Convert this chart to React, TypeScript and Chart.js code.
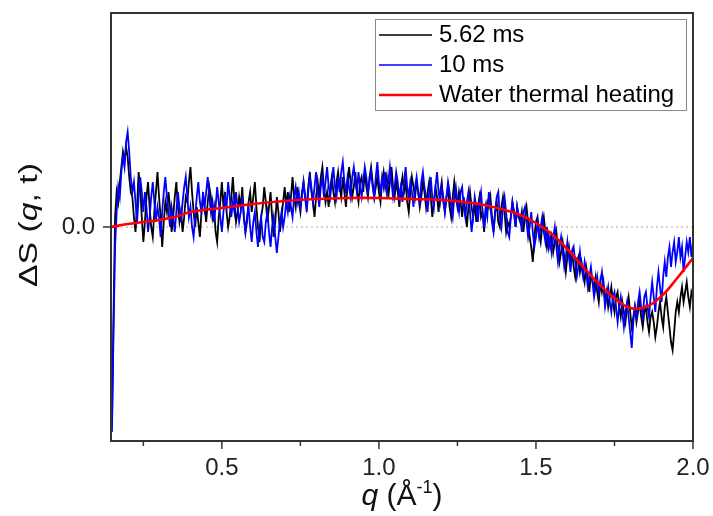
import React, { useEffect, useRef } from 'react';
import { Chart, registerables } from 'chart.js';
Chart.register(...registerables);

const Q_START = 0.15;
const Q_STEP = 0.005;

// ΔS for 5.62 ms, q = 0.150 … 2.000 every 0.005
const series562 = [
  -2.0, -0.9, 0.1, 0.35, 0.25, 0.45, 0.6, 0.75, 0.65, 0.8, 0.7, 0.5, 0.35, 0.3, 0.1, -0.05, 0.2, 0.55, 0.4, 0.1,
  -0.15, 0.05, 0.3, 0.45, 0.2, 0.0, -0.1, 0.15, 0.35, 0.55, 0.3, 0.1, -0.2, 0.05, 0.25, 0.15, 0.35, 0.2, -0.05, 0.1,
  0.3, 0.45, 0.2, 0.05, 0.15, -0.05, 0.1, 0.3, 0.25, 0.45, 0.6, 0.35, 0.15, 0.0, 0.2, 0.05, -0.1, 0.15, 0.3, 0.2,
  0.05, 0.25, 0.4, 0.3, 0.1, 0.2, -0.05, -0.15, 0.1, 0.25, 0.45, 0.2, 0.35, 0.15, 0.0, 0.1, 0.3, 0.5, 0.25, 0.05,
  0.15, 0.3, 0.2, 0.4, 0.1, -0.05, 0.05, 0.25, 0.35, 0.15, 0.3, 0.45, 0.2, 0.0, -0.15, 0.1, 0.2, 0.4, 0.25, 0.05,
  0.2, 0.35, 0.1, -0.1, 0.05, 0.3, 0.15, -0.05, 0.1, 0.25, 0.4, 0.2, 0.35, 0.15, 0.3, 0.5, 0.3, 0.2, 0.4, 0.25,
  0.15, 0.35, 0.45, 0.3, 0.2, 0.4, 0.55, 0.35, 0.25, 0.1, 0.3, 0.45, 0.3, 0.5, 0.6, 0.4, 0.25, 0.35, 0.2, 0.4,
  0.5, 0.35, 0.25, 0.45, 0.55, 0.4, 0.3, 0.5, 0.35, 0.2, 0.4, 0.6, 0.45, 0.3, 0.4, 0.55, 0.35, 0.25, 0.45, 0.5,
  0.35, 0.55, 0.4, 0.3, 0.5, 0.6, 0.45, 0.3, 0.4, 0.5, 0.35, 0.25, 0.45, 0.55, 0.4, 0.5, 0.3, 0.45, 0.6, 0.4,
  0.3, 0.45, 0.35, 0.2, 0.4, 0.5, 0.35, 0.45, 0.25, 0.15, 0.35, 0.5, 0.4, 0.3, 0.45, 0.35, 0.2, 0.3, 0.45, 0.35,
  0.2, 0.35, 0.45, 0.3, 0.1, 0.25, 0.4, 0.3, 0.15, 0.35, 0.45, 0.25, 0.15, 0.3, 0.4, 0.2, 0.1, 0.3, 0.45, 0.3,
  0.2, 0.35, 0.25, 0.1, 0.3, 0.15, 0.0, 0.2, 0.35, 0.2, 0.1, 0.25, 0.05, 0.2, 0.3, 0.1, 0.15, -0.05, 0.15, 0.25,
  0.2, 0.3, 0.1, -0.05, 0.15, 0.25, 0.05, 0.0, 0.2, 0.3, 0.15, -0.05, 0.05, 0.0, 0.1, 0.25, 0.15, 0.0, 0.2, 0.1,
  0.05, 0.15, -0.05, 0.1, 0.2, 0.05, -0.1, -0.2, -0.35, -0.1, 0.05, 0.1, -0.05, -0.15, 0.0, 0.1, -0.05, -0.2, -0.1, -0.2,
  -0.1, -0.25, -0.15, -0.05, -0.2, -0.35, -0.25, -0.15, -0.3, -0.45, -0.3, -0.2, -0.35, -0.25, -0.4, -0.5, -0.35, -0.3, -0.45, -0.35,
  -0.45, -0.55, -0.4, -0.5, -0.65, -0.45, -0.55, -0.6, -0.5, -0.65, -0.75, -0.55, -0.65, -0.55, -0.75, -0.65, -0.8, -0.7, -0.6, -0.75,
  -0.85, -0.7, -0.65, -0.8, -0.9, -0.75, -0.85, -0.95, -0.8, -0.7, -0.85, -1.0, -0.9, -0.8, -0.95, -0.85, -0.75, -0.9, -1.0, -0.85,
  -0.8, -0.95, -1.05, -0.9, -0.85, -0.95, -1.1, -1.0, -0.85, -0.75, -0.9, -1.0, -0.8, -0.7, -0.85, -1.0, -1.15, -1.23, -1.05, -0.85,
  -0.75, -0.85, -0.7, -0.6, -0.75, -0.65, -0.55, -0.7, -0.8, -0.65, -0.7,
];

// ΔS for 10 ms, same q grid
const series10 = [
  -2.05, -1.05, -0.2, 0.15, 0.4, 0.3, 0.55, 0.7, 0.6, 0.85, 0.95, 0.75, 0.5, 0.35, 0.45, 0.25, 0.05, 0.3, 0.5, 0.35,
  0.15, 0.35, 0.2, -0.05, 0.1, 0.3, 0.45, 0.25, 0.05, 0.2, 0.1, -0.1, 0.15, 0.35, 0.5, 0.3, 0.15, 0.0, 0.2, 0.1,
  -0.05, 0.15, 0.35, 0.2, 0.05, 0.25, 0.4, 0.5, 0.3, 0.1, 0.2, 0.0, -0.1, 0.1, 0.3, 0.45, 0.25, 0.15, 0.35, 0.2,
  0.35, 0.5, 0.3, 0.15, 0.25, 0.05, 0.2, 0.4, 0.25, 0.1, -0.05, 0.15, 0.3, 0.2, 0.45, 0.3, 0.1, 0.25, 0.15, 0.35,
  0.2, 0.05, 0.15, 0.3, 0.1, -0.05, 0.1, 0.2, 0.0, -0.15, 0.05, 0.15, -0.05, -0.2, 0.0, 0.1, -0.1, -0.15, 0.05, 0.15,
  -0.05, -0.2, 0.0, 0.1, -0.1, -0.26, -0.1, 0.05, 0.15, 0.0, 0.1, 0.25, 0.15, 0.3, 0.2, 0.1, 0.3, 0.4, 0.25, 0.35,
  0.2, 0.3, 0.45, 0.3, 0.15, 0.35, 0.5, 0.4, 0.25, 0.4, 0.55, 0.35, 0.2, 0.4, 0.5, 0.3, 0.45, 0.6, 0.4, 0.3,
  0.45, 0.6, 0.4, 0.3, 0.5, 0.35, 0.55, 0.65, 0.45, 0.35, 0.5, 0.4, 0.3, 0.5, 0.6, 0.45, 0.35, 0.55, 0.4, 0.3,
  0.45, 0.6, 0.5, 0.35, 0.45, 0.55, 0.4, 0.3, 0.5, 0.65, 0.45, 0.35, 0.5, 0.4, 0.55, 0.35, 0.45, 0.6, 0.45, 0.3,
  0.4, 0.55, 0.45, 0.3, 0.4, 0.25, 0.45, 0.6, 0.4, 0.3, 0.45, 0.35, 0.2, 0.4, 0.5, 0.35, 0.25, 0.45, 0.55, 0.4,
  0.3, 0.15, 0.35, 0.5, 0.3, 0.2, 0.4, 0.55, 0.35, 0.25, 0.4, 0.3, 0.15, 0.3, 0.45, 0.35, 0.2, 0.1, 0.3, 0.4,
  0.25, 0.15, 0.35, 0.4, 0.2, 0.1, 0.25, 0.35, 0.15, -0.05, 0.1, 0.3, 0.2, 0.05, 0.25, 0.35, 0.15, 0.0, 0.2, 0.1,
  0.35, 0.2, 0.05, -0.05, 0.15, 0.3, 0.35, 0.1, 0.0, 0.2, 0.3, 0.15, -0.05, -0.1, 0.1, 0.25, 0.15, 0.0, 0.2, 0.1,
  0.1, -0.05, 0.15, 0.2, 0.05, -0.1, 0.0, 0.15, -0.05, -0.2, -0.1, 0.05, -0.1, 0.0, 0.1, -0.05, -0.15, 0.0, -0.2, -0.1,
  -0.25, -0.1, 0.0, -0.2, -0.35, -0.2, -0.1, -0.25, -0.4, -0.3, -0.15, -0.3, -0.45, -0.25, -0.2, -0.35, -0.5, -0.4, -0.25, -0.4,
  -0.5, -0.35, -0.45, -0.6, -0.5, -0.4, -0.55, -0.7, -0.6, -0.5, -0.65, -0.55, -0.45, -0.6, -0.8, -0.7, -0.6, -0.75, -0.85, -0.7,
  -0.65, -0.8, -0.95, -0.8, -0.7, -0.85, -1.0, -0.85, -0.75, -0.9, -1.05, -1.21, -0.95, -0.8, -0.9, -0.75, -0.65, -0.8, -0.9, -0.7,
  -0.65, -0.8, -0.9, -0.7, -0.55, -0.7, -0.85, -0.6, -0.45, -0.6, -0.75, -0.5, -0.35, -0.5, -0.3, -0.2, -0.4, -0.25, -0.15, -0.35,
  -0.25, -0.1, -0.3, -0.2, -0.45, -0.3, -0.15, -0.25, -0.1, -0.3, -0.15,
];

const heatQ = [0.147, 0.2, 0.25, 0.3, 0.35, 0.4, 0.5, 0.6, 0.7, 0.8, 0.9, 1.0, 1.1, 1.2, 1.3, 1.35, 1.4, 1.45, 1.5, 1.55, 1.6, 1.65, 1.7, 1.75, 1.8, 1.85, 1.9, 1.95, 2.0];
const heatS = [0.0, 0.03, 0.05, 0.07, 0.1, 0.15, 0.19, 0.23, 0.26, 0.28, 0.29, 0.29, 0.28, 0.27, 0.24, 0.21, 0.17, 0.12, 0.04, -0.07, -0.22, -0.4, -0.57, -0.71, -0.81, -0.8, -0.69, -0.51, -0.31];

const xTickValues = [0.25, 0.5, 0.75, 1.0, 1.25, 1.5, 1.75, 2.0];
const xTickLabels = ['', '0.5', '', '1.0', '', '1.5', '', '2.0'];
const yTickValues = [0];
const yTickLabels = ['0.0'];

const labels = ['5.62 ms', '10 ms', 'Water thermal heating'];
const colors = ['#000000', '#0000ff', '#ff0000'];

const FONT = '"Liberation Sans", Arial, sans-serif';

const toPoints = (vals: number[]) => vals.map((v, i) => ({ x: +(Q_START + i * Q_STEP).toFixed(4), y: v }));

const decor = {
  id: 'decor',
  beforeDatasetsDraw(chart: any) {
    const { ctx, chartArea: a, scales } = chart;
    const y0 = scales.y.getPixelForValue(0);
    ctx.save();
    ctx.strokeStyle = '#aaaaaa';
    ctx.lineWidth = 1;
    ctx.setLineDash([2, 3]);
    ctx.beginPath();
    ctx.moveTo(a.left, y0);
    ctx.lineTo(a.right, y0);
    ctx.stroke();
    ctx.restore();
  },
  afterDraw(chart: any) {
    const { ctx, chartArea: a, scales } = chart;
    ctx.save();
    ctx.strokeStyle = '#333333';
    ctx.lineWidth = 2;
    ctx.strokeRect(a.left, a.top, a.right - a.left, a.bottom - a.top);
    ctx.lineWidth = 1.5;
    ctx.fillStyle = '#222222';
    ctx.font = `24px ${FONT}`;
    ctx.textAlign = 'center';
    ctx.textBaseline = 'middle';
    xTickValues.forEach((v, i) => {
      const px = scales.x.getPixelForValue(v);
      const major = xTickLabels[i] !== '';
      ctx.beginPath();
      ctx.moveTo(px, a.bottom);
      ctx.lineTo(px, a.bottom + (major ? 8 : 5));
      ctx.stroke();
      if (major) ctx.fillText(xTickLabels[i], px, a.bottom + 27);
    });
    ctx.textAlign = 'right';
    yTickValues.forEach((v, i) => {
      const py = scales.y.getPixelForValue(v);
      ctx.beginPath();
      ctx.moveTo(a.left, py);
      ctx.lineTo(a.left - 8, py);
      ctx.stroke();
      ctx.fillText(yTickLabels[i], a.left - 16, py);
    });
    const drawParts = (parts: { t: string; f: string; dy?: number }[], cx: number, cy: number) => {
      let total = 0;
      parts.forEach((p) => { ctx.font = p.f; total += ctx.measureText(p.t).width; });
      let x = cx - total / 2;
      ctx.textAlign = 'left';
      parts.forEach((p) => {
        ctx.font = p.f;
        ctx.fillText(p.t, x, cy + (p.dy || 0));
        x += ctx.measureText(p.t).width;
      });
    };
    ctx.fillStyle = '#111111';
    drawParts([
      { t: 'q', f: `italic 30px ${FONT}` },
      { t: ' (Å', f: `30px ${FONT}` },
      { t: '-1', f: `18px ${FONT}`, dy: -9 },
      { t: ')', f: `30px ${FONT}` },
    ], 402, 497);
    ctx.save();
    ctx.translate(30, 225);
    ctx.rotate(-Math.PI / 2);
    ctx.scale(1.3, 1);
    drawParts([
      { t: 'ΔS (', f: `26px ${FONT}` },
      { t: 'q', f: `italic 26px ${FONT}` },
      { t: ', t)', f: `26px ${FONT}` },
    ], 0, 0);
    ctx.restore();
    const lx = 375, ly = 19, lw = 311, lh = 91;
    ctx.fillStyle = '#ffffff';
    ctx.fillRect(lx, ly, lw, lh);
    ctx.strokeStyle = '#888888';
    ctx.lineWidth = 1;
    ctx.strokeRect(lx + 0.5, ly + 0.5, lw, lh);
    ctx.font = `24px ${FONT}`;
    ctx.textAlign = 'left';
    ctx.textBaseline = 'middle';
    labels.forEach((lab, i) => {
      const yy = ly + 16 + i * 30;
      ctx.strokeStyle = colors[i];
      ctx.lineWidth = i === 2 ? 2.5 : 1.5;
      ctx.beginPath();
      ctx.moveTo(lx + 4, yy);
      ctx.lineTo(lx + 57, yy);
      ctx.stroke();
      ctx.fillStyle = '#000000';
      ctx.fillText(lab, lx + 64, yy);
    });
    ctx.restore();
  },
};

export default function App() {
  const ref = useRef<HTMLCanvasElement>(null);
  useEffect(() => {
    document.body.style.margin = '0';
    const chart = new Chart(ref.current as HTMLCanvasElement, {
      type: 'line',
      data: {
        datasets: [
          { label: labels[2], data: heatQ.map((q, i) => ({ x: q, y: heatS[i] })), borderColor: colors[2], borderWidth: 2.6, pointRadius: 0, tension: 0.4, order: 0 },
          { label: labels[1], data: toPoints(series10), borderColor: colors[1], borderWidth: 1.8, pointRadius: 0, tension: 0, order: 1 },
          { label: labels[0], data: toPoints(series562), borderColor: colors[0], borderWidth: 1.8, pointRadius: 0, tension: 0, order: 2 },
        ],
      },
      options: {
        animation: false,
        responsive: false,
        layout: { padding: { left: 0, top: 13, right: 20, bottom: 0 } },
        plugins: { legend: { display: false }, tooltip: { enabled: false } },
        scales: {
          x: {
            type: 'linear', min: 0.147, max: 2.0,
            grid: { display: false }, border: { display: false },
            ticks: { display: false },
            afterFit: (s: any) => { s.height = 75; },
          },
          y: {
            type: 'linear', min: -2.14, max: 2.14,
            grid: { display: false }, border: { display: false },
            ticks: { display: false },
            afterFit: (s: any) => { s.width = 111; },
          },
        },
      },
      plugins: [decor],
    } as any);
    return () => chart.destroy();
  }, []);
  return (
    <div style={{ width: 713, height: 516 }}>
      <canvas ref={ref} width={713} height={516} />
    </div>
  );
}
